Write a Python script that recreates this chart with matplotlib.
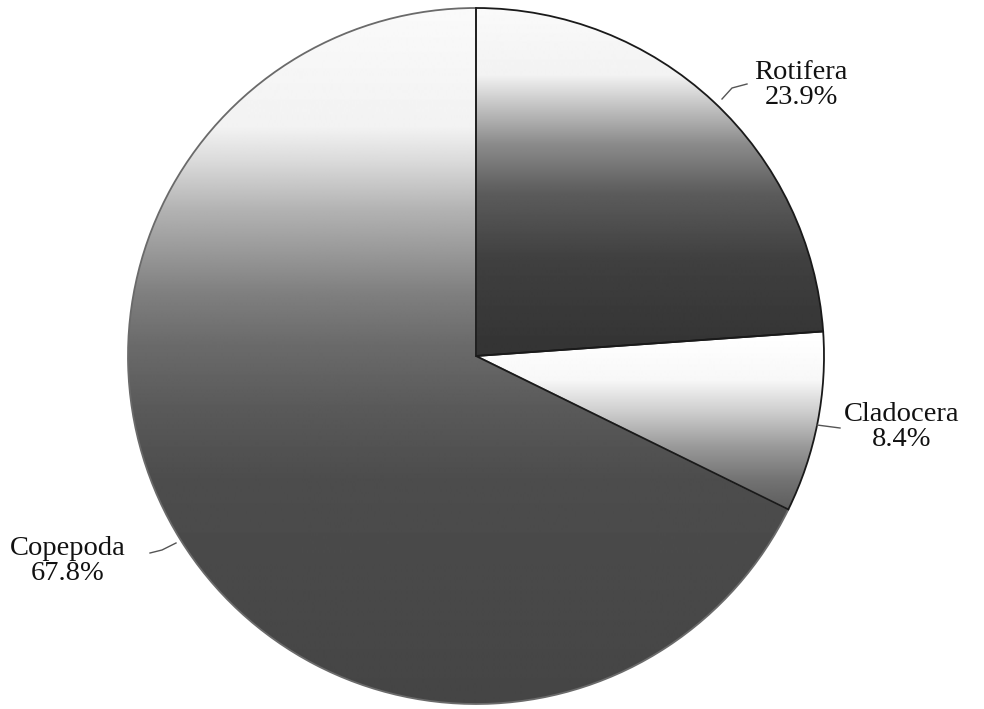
import numpy as np
import matplotlib
matplotlib.use("Agg")
import matplotlib.pyplot as plt

# Zooplankton composition (percent of total)
groups = ["Rotifera", "Cladocera", "Copepoda"]
shares = [23.9, 8.4, 67.8]
share_labels = ["23.9%", "8.4%", "67.8%"]

# Vertical grey shading of each slice: (row from top in px, grey level)
shading = {
    "Rotifera": [(8, 0.98), (75, 0.95), (100, 0.8), (143, 0.55), (193, 0.36),
                 (260, 0.25), (356, 0.2)],
    "Cladocera": [(336, 1.0), (380, 0.97), (413, 0.8), (447, 0.6),
                  (480, 0.45), (515, 0.35)],
    "Copepoda": [(8, 0.98), (127, 0.95), (160, 0.86), (210, 0.7), (260, 0.58),
                 (293, 0.5), (343, 0.42), (410, 0.35), (480, 0.3), (704, 0.27)],
}
edge_colors = {"Rotifera": "#1a1a1a", "Cladocera": "#1a1a1a", "Copepoda": "#6a6a6a"}

W, H = 984, 709
fig = plt.figure(figsize=(W / 100, H / 100), dpi=100)
ax = fig.add_axes([0, 0, 1, 1])

cx, cy, R = 476, H - 356, 348
wedges, _ = ax.pie(
    shares, startangle=90, counterclock=False, center=(cx, cy), radius=R,
    wedgeprops=dict(linewidth=1.3, facecolor="none"),
)

rows = np.arange(0, H + 1)
for name, w in zip(groups, wedges):
    w.set_edgecolor(edge_colors[name])
    if name == "Copepoda":
        w.set_zorder(0.9)
    ys, gs = zip(*shading[name])
    col = np.interp(rows, ys, gs)
    img = np.repeat(col[:, None], 2, axis=1)
    im = ax.imshow(img, cmap="gray", vmin=0, vmax=1, aspect="auto",
                   extent=(cx - R, cx + R, 0, H), origin="upper",
                   interpolation="bilinear", zorder=0.5)
    im.set_clip_path(w)

ax.set_xlim(0, W)
ax.set_ylim(0, H)
ax.set_aspect("equal")
ax.axis("off")

font = dict(family="Liberation Serif", fontsize=20.5, color="#111111",
            ha="center", va="center", linespacing=1.05)
label_pos = {"Rotifera": (801, 85), "Cladocera": (902, 427), "Copepoda": (68, 561)}
for name, pct in zip(groups, share_labels):
    x, y = label_pos[name]
    ax.text(x, H - y, f"{name}\n{pct}", **font)

leaders = {
    "Rotifera": [(722, 99), (732, 88), (747, 84)],
    "Cladocera": [(817, 425), (840, 428)],
    "Copepoda": [(150, 553), (162, 550), (176, 543)],
}
for pts in leaders.values():
    xs, ys = zip(*pts)
    ax.plot(xs, [H - v for v in ys], color="#555555", lw=1.0)

fig.savefig("out.png", dpi=100, facecolor="white")
